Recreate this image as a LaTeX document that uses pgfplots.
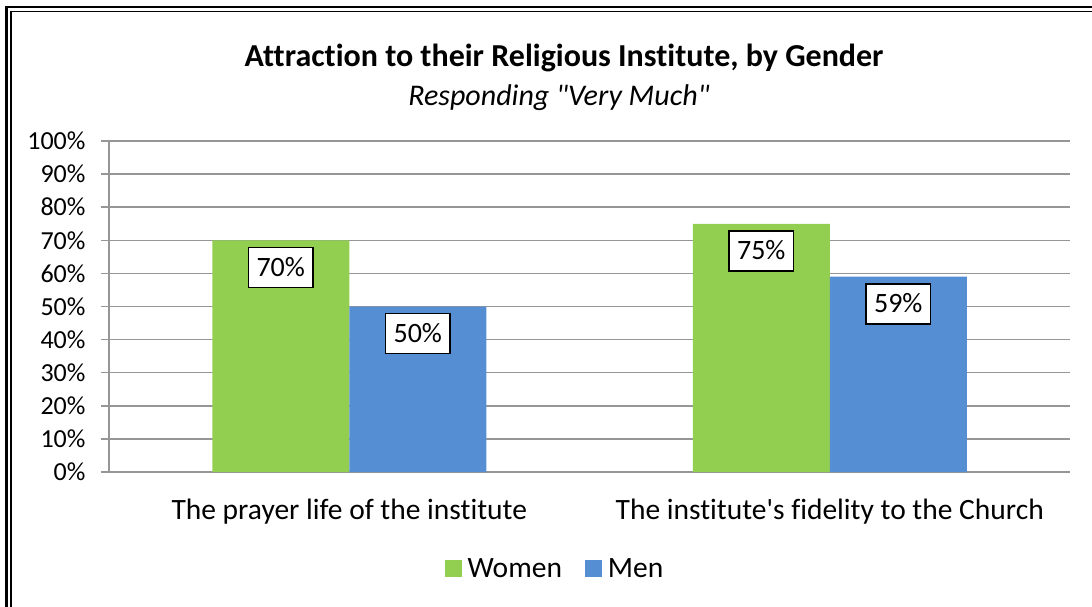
\documentclass[border=0pt]{standalone}
\usepackage{fontspec}
\setmainfont{Carlito}[Ligatures={TeXOff,NoCommon}]
\usepackage{pgfplots}
\pgfplotsset{compat=1.18}
\definecolor{gridgray}{RGB}{150,150,150}
\definecolor{womenG}{RGB}{146,206,80}
\definecolor{menB}{RGB}{86,142,212}
\begin{document}
\begin{tikzpicture}[x=1pt,y=1pt]
\begin{axis}[
  at={(109pt,134pt)}, anchor=south west,
  scale only axis, width=961pt, height=331pt,
  xmin=-0.5, xmax=1.5, ymin=0, ymax=100,
  axis lines=left, axis line style={-, gridgray, line width=1.5pt},
  ybar=0pt, bar width=137pt,
  ytick={0,10,...,100},
  yticklabel={\pgfmathprintnumber{\tick}\%},
  ymajorgrids, grid style={gridgray, line width=1.5pt},
  ytick align=outside, ytick style={gridgray, line width=1.5pt},
  major tick length=8pt,
  xtick={0,1},
  xticklabels={The prayer life of the institute, The institute's fidelity to the Church},
  xtick style={draw=none},
  extra x ticks={-0.5,0.5,1.5}, extra x tick labels={},
  extra x tick style={xtick style={gridgray, line width=1.5pt}, xtick align=outside, xmajorgrids=false, major tick length=8pt},
  /pgf/number format/assume math mode=true,
  yticklabel style={font=\fontsize{26}{30}\selectfont, xshift=-12pt},
  xticklabel style={font=\fontsize{29.5}{34}\selectfont, yshift=-15pt},
  nodes near coords={\pgfmathprintnumber{\pgfplotspointmeta}\%},
  nodes near coords style={font=\fontsize{28}{32}\selectfont, anchor=north, yshift=-6.5pt,
     fill=white, draw=black, line width=1.3pt, inner xsep=8pt, inner ysep=11pt,
     text height=18pt, text depth=0pt},
  legend style={at={(0.4662,-0.293)}, anchor=center, draw=none, legend columns=2,
     font=\fontsize{29.5}{34}\selectfont, inner sep=0pt,
     /tikz/every even column/.append style={column sep=17pt},
     nodes={inner xsep=6pt}},
  legend image code/.code={\path[#1] (0pt,-8.5pt) rectangle (17pt,8.5pt);},
  clip=false,
]
\addplot[draw=none, fill=womenG] coordinates {(0,70) (1,75)};
\addplot[draw=none, fill=menB] coordinates {(0,50) (1,59)};
\legend{Women, Men}
\end{axis}
\node[font=\bfseries\fontsize{32}{36}\selectfont] at (564pt,548pt) {Attraction to their Religious Institute, by Gender};
\node[font=\itshape\fontsize{30}{34}\selectfont] at (559pt,508pt) {Responding "Very Much"};
\draw[line width=2.5pt] (6.5pt,-20pt) -- (6.5pt,599pt) -- (1120pt,599pt);
\draw[line width=1.2pt] (11pt,-20pt) -- (11pt,594.5pt) -- (1120pt,594.5pt);
\pgfresetboundingbox
\path (0,0) rectangle (1092pt,606pt);
\end{tikzpicture}
\end{document}
